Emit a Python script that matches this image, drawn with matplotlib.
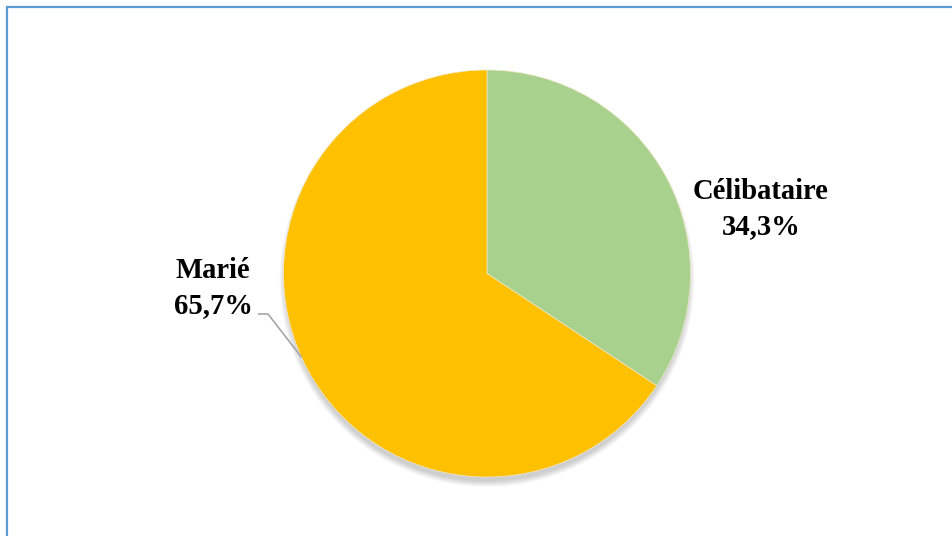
import matplotlib
matplotlib.use("Agg")
import matplotlib.pyplot as plt
from matplotlib.patches import Circle
import numpy as np

categories = ["Célibataire", "Marié"]
values = [34.3, 65.7]
pct_labels = ["34,3%", "65,7%"]
colors = ["#A9D18E", "#FFC000"]

W, H = 953, 536
fig = plt.figure(figsize=(W / 100, H / 100), dpi=100)
ax = fig.add_axes([0, 0, 1, 1])
ax.set_xlim(0, W)
ax.set_ylim(0, H)
ax.set_aspect("equal")
ax.axis("off")

cx, cy, r = 487, H - 273.5, 203.5

# soft shadow, mostly below the pie
for k in range(8):
    ax.add_patch(Circle((cx, cy - 6), r + 4 - k * 0.8, color="black", alpha=0.025,
                        lw=0, zorder=1))

wedges, _ = ax.pie(values, colors=colors, startangle=90, counterclock=False,
                   center=(cx, cy), radius=r, frame=True,
                   wedgeprops=dict(linewidth=0.5, edgecolor="#f0e8c8"))
for w in wedges:
    w.set_zorder(2)
ax.set_xlim(0, W)
ax.set_ylim(0, H)
ax.axis("off")

font = dict(family="Liberation Serif", fontweight="bold", fontsize=20.6,
            color="black", ha="center", va="center", linespacing=1.38)
ax.text(761, H - 209, f"{categories[0]}\n{pct_labels[0]}", **font)
ax.text(213, H - 288, f"{categories[1]}\n{pct_labels[1]}", **font)

# leader line for Marié
ang = np.deg2rad(204.3)
ex, ey = cx + r * np.cos(ang), cy + r * np.sin(ang)
ax.plot([258, 268, ex], [H - 314, H - 314, ey], color="#A6A6A6", lw=1.2,
        zorder=3, solid_capstyle="butt")

# frame border (left and top)
ax.plot([7, 7, W], [0, H - 7, H - 7], color="#5B9BD5", lw=1.6, zorder=5,
        solid_joinstyle="miter")

fig.savefig("out.png", dpi=100)
